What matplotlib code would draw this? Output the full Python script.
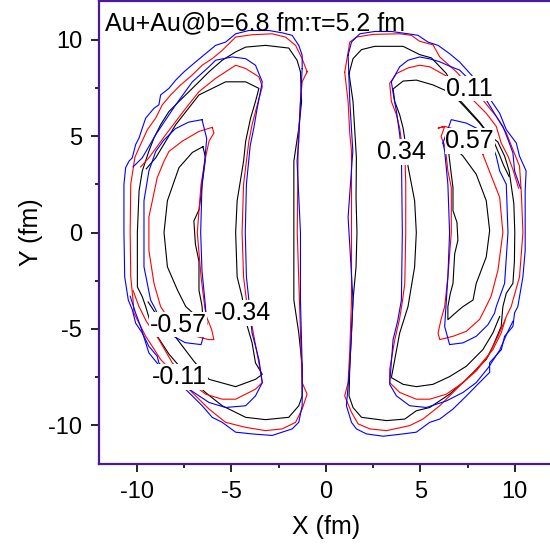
import numpy as np
import matplotlib.pyplot as plt
from matplotlib.ticker import MultipleLocator

plt.rcParams['font.family'] = ['Liberation Sans', 'DejaVu Sans']
plt.rcParams['axes.unicode_minus'] = False

# contour lines, (x, y) in fm
# right lobe, levels 0.11 / 0.34 / 0.57
black_right_011 = [(1.23, 8.24), (1.44, 9.01), (1.89, 9.48), (2.59, 9.65), (4.09, 9.65), (4.97, 9.22),
                   (5.59, 9.05), (6.38, 8.24), (6.75, 7.5), (7.1, 6.85), (8.14, 5.72), (8.7, 5.0),
                   (9.1, 4.7), (9.46, 3.96), (9.7, 3.2), (9.95, 1.5), (10.0, 0.0), (9.98, -1.5),
                   (9.9, -2.64), (9.55, -3.15), (9.37, -3.84), (9.28, -4.87), (8.84, -5.9), (8.49, -6.58),
                   (7.44, -7.61), (6.55, -8.38), (5.5, -9.07), (4.79, -9.24), (4.18, -9.67), (3.21, -9.75),
                   (1.89, -9.58), (1.44, -9.07), (1.23, -8.47), (1.27, -6.93), (1.36, -5.21), (1.44, -3.5),
                   (1.6, -1.8), (1.65, 0.0), (1.6, 1.8), (1.62, 3.87), (1.44, 6.79), (1.23, 8.24)]
red_right_011 = [(1.0, 8.3), (1.27, 9.87), (1.62, 10.13), (2.5, 10.27), (3.91, 10.3), (4.53, 10.22),
                 (4.97, 9.91), (5.67, 9.73), (6.03, 9.1), (6.91, 8.33), (7.6, 7.6), (8.31, 6.87),
                 (9.02, 6.02), (9.55, 5.16), (9.9, 4.3), (10.25, 3.44), (10.35, 2.0), (10.43, 0.0),
                 (10.25, -2.3), (9.81, -3.84), (9.55, -4.35), (9.28, -5.21), (8.84, -6.07), (7.96, -7.1),
                 (7.08, -7.95), (6.03, -8.98), (5.14, -9.67), (4.44, -10.01), (3.21, -10.27), (2.33, -10.18),
                 (1.71, -9.92), (1.36, -9.32), (1.0, -8.47), (1.18, -7.78), (1.27, -6.07), (1.36, -3.5),
                 (1.36, 0.0), (1.36, 4.22), (1.27, 5.1), (1.18, 6.79), (1.0, 8.3)]
blue_right_011 = [(1.18, 9.19), (1.36, 9.87), (1.8, 10.3), (2.59, 10.42), (3.47, 10.42), (4.35, 10.3),
                  (4.88, 10.22), (5.41, 9.87), (5.94, 9.7), (6.55, 9.27), (7.08, 8.84), (7.79, 8.07),
                  (8.49, 7.21), (9.2, 6.18), (9.55, 5.33), (10.08, 4.64), (10.25, 3.96), (10.6, 3.19),
                  (10.55, 2.16), (10.55, -0.93), (10.43, -2.3), (10.16, -3.84), (9.99, -4.16), (9.9, -4.87),
                  (9.46, -5.38), (9.29, -6.07), (8.67, -6.75), (8.67, -7.25), (7.96, -7.95), (7.44, -8.47),
                  (6.73, -9.15), (6.03, -9.67), (5.5, -9.84), (4.79, -10.35), (4.09, -10.44), (3.03, -10.56),
                  (2.15, -10.44), (1.62, -10.18), (1.36, -9.84), (1.09, -8.98), (1.27, -6.93), (1.36, -5.19),
                  (1.44, -3.5), (1.18, 0.79), (1.43, 4.22), (1.27, 6.79), (1.18, 9.19)]
black_right_034 = [(9.7, 2.9), (9.4, 3.5), (9.2, 4.0), (8.9, 4.7), (8.14, 5.67), (7.08, 6.79), (6.38, 7.34),
                   (5.67, 7.65), (4.79, 7.9), (4.09, 7.85), (3.56, 7.44), (3.65, 6.79), (3.91, 6.1),
                   (4.09, 5.41), (4.25, 4.4), (4.35, 3.44), (4.7, 1.65), (4.79, 0.0), (4.7, -1.78),
                   (4.35, -3.84), (3.91, -5.21), (3.65, -6.58), (3.47, -7.52), (4.09, -7.87), (4.79, -7.99),
                   (5.67, -7.87), (6.55, -7.47), (7.44, -6.93), (8.31, -6.07), (8.84, -5.21), (9.2, -4.35)]
red_right_034 = [(10.2, 2.3), (9.9, 3.27), (9.64, 3.96), (9.28, 4.64), (9.02, 5.5), (8.49, 6.18), (7.79, 6.87),
                 (7.0, 7.7), (6.29, 8.16), (5.5, 8.59), (4.97, 8.67), (4.35, 8.53), (3.74, 8.24), (3.38, 7.73),
                 (3.47, 6.79), (3.74, 6.1), (3.91, 5.41), (4.0, 4.73), (4.18, 4.22), (4.23, 2.5), (4.23, 0.0),
                 (4.18, -2.64), (4.05, -3.6), (3.9, -4.5), (3.65, -5.55), (3.38, -7.1), (3.38, -7.78),
                 (3.91, -8.29), (4.79, -8.64), (5.5, -8.64), (6.38, -8.38), (7.26, -7.78), (7.96, -7.18),
                 (8.6, -6.4), (9.1, -5.4), (9.5, -4.5)]
blue_right_034 = [(10.3, 2.3), (9.99, 3.19), (9.9, 4.13), (9.64, 4.82), (9.37, 5.5), (9.02, 6.02), (8.49, 6.87),
                  (7.79, 7.73), (7.08, 8.42), (6.6, 8.6), (6.03, 8.85), (5.5, 9.0), (4.97, 9.1), (4.35, 8.93),
                  (3.91, 8.59), (3.47, 7.81), (3.6, 7.0), (3.74, 6.27), (3.91, 5.07), (4.0, 4.22), (4.05, 0.0),
                  (4.0, -3.5), (3.8, -4.6), (3.56, -5.55), (3.38, -7.87), (3.74, -8.47), (4.44, -8.98),
                  (5.32, -9.07), (6.38, -8.73), (7.26, -8.29), (7.96, -7.78), (8.6, -7.0), (9.2, -6.1),
                  (9.6, -5.2), (9.9, -4.6)]
black_right_057 = [(6.46, 4.5), (6.64, 3.02), (6.73, 2.33), (6.73, 1.13), (6.94, 0.53), (6.99, -0.41),
                   (6.82, -1.1), (6.73, -2.64), (6.59, -3.15), (6.46, -3.84), (6.46, -4.52), (7.0, -4.05),
                   (7.26, -3.84), (7.79, -3.5), (7.96, -2.64), (8.49, -1.27), (8.67, 0.1), (8.49, 1.65),
                   (7.96, 3.02), (7.26, 3.96), (6.9, 4.3), (6.46, 4.5)]
red_right_057 = [(8.31, 4.05), (9.2, 1.82), (9.37, 0.0), (9.11, -1.95), (8.75, -3.3), (8.4, -4.0), (8.14, -4.5),
                 (7.44, -5.12), (6.73, -5.38), (6.03, -5.55), (5.94, -5.21), (6.1, -4.5), (6.29, -3.84),
                 (6.46, -2.3), (6.64, 0.0), (6.64, 2.33), (6.46, 3.19), (6.38, 3.9), (6.29, 4.5), (6.1, 4.97),
                 (6.29, 5.5), (5.94, 5.41), (6.3, 5.5), (7.0, 5.3), (7.8, 4.7), (8.31, 4.05)]
blue_right_057 = [(6.2, 4.64), (6.64, 5.85), (7.44, 5.67), (8.31, 5.24), (8.76, 4.64), (9.02, 3.96), (9.2, 3.19),
                  (9.55, 2.5), (9.64, 0.0), (9.46, -2.64), (9.02, -3.84), (8.93, -4.18), (8.58, -4.78),
                  (7.96, -5.38), (7.26, -5.72), (6.55, -5.81), (6.29, -4.87), (6.38, -3.5), (6.46, -2.3),
                  (6.55, 0.0), (6.46, 2.5), (6.29, 4.22), (6.2, 4.64)]

# left lobe, levels -0.11 / -0.34 / -0.57
black_left_011 = [(-1.34, 8.33), (-1.52, 8.93), (-1.96, 9.56), (-3.19, 9.7), (-4.24, 9.61), (-4.77, 9.36),
                  (-5.48, 8.93), (-6.18, 8.33), (-6.71, 7.81), (-7.24, 7.3), (-7.77, 6.79), (-8.3, 6.27),
                  (-8.74, 5.59), (-9.09, 4.9), (-9.36, 4.22), (-9.71, 3.19), (-9.88, 2.16), (-9.97, 0.0),
                  (-9.97, -2.82), (-9.71, -3.33), (-9.53, -3.84), (-9.3, -4.6), (-8.9, -5.4), (-8.3, -6.3),
                  (-7.6, -7.1), (-6.9, -7.8), (-6.36, -8.3), (-5.48, -8.98), (-4.24, -9.58), (-3.19, -9.7),
                  (-1.96, -9.58), (-1.43, -8.98), (-1.25, -8.47), (-1.25, -6.93), (-1.43, -5.21),
                  (-1.69, -3.5), (-1.69, 0.0), (-1.69, 3.7), (-1.43, 5.4), (-1.28, 6.79), (-1.34, 8.33)]
red_left_011 = [(-0.99, 8.33), (-1.25, 9.01), (-1.6, 9.7), (-2.13, 10.13), (-2.84, 10.3), (-3.9, 10.25),
                (-4.77, 10.13), (-5.48, 9.44), (-6.01, 9.01), (-6.54, 8.67), (-7.07, 8.16), (-7.68, 7.65),
                (-8.21, 7.13), (-8.65, 6.62), (-9.0, 5.93), (-9.44, 5.33), (-9.88, 4.39), (-10.1, 3.9),
                (-10.32, 2.5), (-10.35, 0.0), (-10.32, -2.3), (-10.2, -3.5), (-10.15, -4.18), (-9.88, -4.7),
                (-9.53, -5.38), (-9.18, -5.9), (-8.74, -6.58), (-7.9, -7.45), (-7.06, -8.3), (-6.18, -9.15),
                (-5.3, -9.84), (-4.24, -10.1), (-3.19, -10.27), (-2.31, -10.18), (-1.6, -9.84), (-1.25, -9.15),
                (-0.99, -8.38), (-1.25, -7.78), (-1.34, -5.21), (-1.51, 0.0), (-1.46, 4.73), (-1.34, 6.79),
                (-1.25, 7.81), (-0.99, 8.33)]
blue_left_011 = [(-1.25, 8.5), (-1.25, 9.19), (-1.43, 9.7), (-1.78, 10.22), (-2.31, 10.35), (-3.01, 10.47),
                 (-4.07, 10.47), (-4.77, 10.3), (-5.3, 9.87), (-5.83, 9.7), (-6.36, 9.27), (-6.89, 8.84),
                 (-7.5, 8.33), (-7.94, 7.9), (-8.3, 7.47), (-8.74, 7.13), (-8.83, 6.62), (-9.09, 6.44),
                 (-9.53, 5.93), (-9.71, 5.41), (-9.88, 4.9), (-10.06, 4.56), (-10.24, 3.87), (-10.41, 3.7),
                 (-10.59, 3.36), (-10.68, 2.5), (-10.68, 0.0), (-10.64, -2.3), (-10.45, -3.5), (-10.24, -4.0),
                 (-10.06, -4.7), (-9.71, -5.21), (-9.36, -5.9), (-8.92, -6.41), (-8.83, -6.76), (-8.12, -7.44),
                 (-7.24, -8.3), (-6.54, -8.98), (-6.01, -9.58), (-5.48, -9.84), (-4.77, -10.35), (-3.9, -10.44),
                 (-2.84, -10.52), (-1.78, -10.18), (-1.43, -9.84), (-1.25, -8.98), (-1.25, -6.93),
                 (-1.34, -3.5), (-1.34, 0.0), (-1.52, 3.7), (-1.43, 4.73), (-1.34, 6.79), (-1.25, 8.5)]
black_left_034 = [(-9.5, 3.3), (-9.0, 3.87), (-7.94, 5.59), (-6.71, 7.13), (-5.3, 7.81), (-4.24, 7.81),
                  (-3.54, 7.47), (-3.72, 6.79), (-3.98, 5.93), (-4.24, 4.73), (-4.35, 3.7), (-4.69, 1.65),
                  (-4.77, 0.0), (-4.69, -2.3), (-4.43, -3.33), (-4.3, -4.1), (-4.15, -4.87), (-3.9, -5.72),
                  (-3.72, -6.76), (-3.36, -7.35), (-3.72, -7.61), (-4.77, -7.99), (-6.18, -7.61),
                  (-6.98, -6.67), (-7.85, -5.55), (-8.5, -4.7), (-9.0, -4.2), (-9.4, -3.6)]
red_left_034 = [(-9.8, 3.4), (-9.36, 3.87), (-8.47, 5.07), (-7.41, 6.44), (-6.71, 7.3), (-5.83, 7.99),
                (-4.77, 8.67), (-4.24, 8.5), (-3.54, 8.07), (-3.36, 7.56), (-3.72, 6.27), (-3.9, 5.59),
                (-4.07, 4.73), (-4.2, 3.7), (-4.35, 2.5), (-4.43, 0.0), (-4.35, -2.3), (-4.2, -3.5),
                (-3.9, -4.87), (-3.54, -6.76), (-3.36, -7.78), (-3.72, -8.12), (-4.77, -8.64), (-5.48, -8.64),
                (-6.36, -8.38), (-7.0, -7.9), (-8.12, -6.76), (-8.83, -5.55), (-9.5, -4.6), (-9.9, -3.8),
                (-10.2, -3.0)]
blue_left_034 = [(-10.2, 3.4), (-9.71, 3.87), (-9.0, 5.07), (-7.94, 6.62), (-7.06, 7.81), (-6.18, 8.59),
                 (-5.83, 8.93), (-4.95, 9.1), (-4.24, 9.01), (-3.72, 8.67), (-3.36, 7.81), (-3.63, 6.44),
                 (-3.81, 5.41), (-4.0, 4.5), (-4.2, 2.5), (-4.26, 0.0), (-4.2, -2.3), (-4.07, -3.5),
                 (-3.9, -5.21), (-3.54, -6.58), (-3.36, -7.78), (-3.72, -8.47), (-4.24, -8.98), (-5.3, -9.07),
                 (-6.18, -8.81), (-7.24, -8.12), (-7.94, -7.61), (-8.65, -7.1), (-9.36, -6.24), (-9.8, -4.87),
                 (-10.06, -4.18), (-10.35, -3.3)]
black_left_057 = [(-6.5, 4.45), (-7.06, 4.15), (-7.77, 3.36), (-8.38, 1.65), (-8.56, 0.0), (-8.38, -1.78),
                  (-7.85, -2.98), (-7.41, -3.84), (-7.0, -4.2), (-6.5, -4.5), (-6.55, -3.8), (-6.71, -3.0),
                  (-6.71, -1.5), (-6.9, -0.6), (-6.98, 0.6), (-6.7, 1.2), (-6.54, 2.5), (-6.36, 3.87),
                  (-6.5, 4.45)]
red_left_057 = [(-6.01, 5.45), (-6.71, 5.24), (-7.6, 4.73), (-8.3, 4.2), (-8.56, 3.7), (-8.92, 2.84),
                (-9.36, 0.8), (-9.36, -0.93), (-9.09, -2.64), (-8.74, -3.84), (-8.3, -4.5), (-7.6, -5.0),
                (-6.8, -5.4), (-6.2, -5.55), (-5.92, -5.55), (-6.05, -5.0), (-6.3, -4.4), (-6.4, -3.9),
                (-6.6, -2.3), (-6.8, 0.0), (-6.6, 2.5), (-6.36, 3.9), (-6.18, 4.73), (-5.92, 5.16),
                (-6.01, 5.45)]
blue_left_057 = [(-6.55, 5.85), (-7.26, 5.72), (-7.96, 5.38), (-8.58, 4.78), (-9.0, 4.2), (-9.36, 3.19),
                 (-9.62, 1.65), (-9.62, -1.78), (-9.27, -3.5), (-9.0, -4.0), (-8.76, -4.64), (-8.31, -5.24),
                 (-7.44, -5.71), (-6.6, -5.81), (-6.29, -4.73), (-6.4, -3.5), (-6.55, -2.0), (-6.62, 0.0),
                 (-6.55, 2.5), (-6.4, 3.8), (-6.3, 4.87), (-6.55, 5.85)]

level_labels = ['0.11', '0.57', '0.34', '-0.57', '-0.34', '-0.11']
label_x = [7.61, 7.61, 4.02, -7.82, -4.39, -7.72]
label_y = [7.46, 4.73, 4.16, -4.78, -4.16, -7.5]

title = 'Au+Au@b=6.8 fm:\u03c4=5.2 fm'

curves = {
    'black': [black_right_011, black_right_034, black_right_057,
              black_left_011, black_left_034, black_left_057],
    'red': [red_right_011, red_right_034, red_right_057,
            red_left_011, red_left_034, red_left_057],
    'blue': [blue_right_011, blue_right_034, blue_right_057,
             blue_left_011, blue_left_034, blue_left_057],
}

fig = plt.figure(figsize=(5.5, 5.52), dpi=100)
ax = fig.add_axes([0.18, 0.1594, 0.8247, 0.8388])

for color, lines in curves.items():
    for pts in lines:
        xy = np.array(pts)
        ax.plot(xy[:, 0], xy[:, 1], color=color, lw=0.8)

for txt, x, y in zip(level_labels, label_x, label_y):
    ax.text(x, y, txt, fontsize=18, ha='center', va='center', zorder=5,
            bbox=dict(facecolor='white', edgecolor='none', pad=0.5))

ax.text(-11.7, 10.85, title, fontsize=18, ha='left', va='center', zorder=5)

ax.set_xlim(-12, 12)
ax.set_ylim(-12, 12)
ax.xaxis.set_major_locator(MultipleLocator(5))
ax.yaxis.set_major_locator(MultipleLocator(5))
ax.xaxis.set_minor_locator(MultipleLocator(2.5))
ax.yaxis.set_minor_locator(MultipleLocator(2.5))
ax.tick_params(which='both', direction='out', top=False, right=False, width=1.2, labelsize=17)
ax.tick_params(which='major', length=6, pad=6)
ax.tick_params(which='minor', length=3)

for side in ['left', 'bottom', 'top', 'right']:
    ax.spines[side].set_color('#4b1a9c')
    ax.spines[side].set_linewidth(1.6)

ax.set_xlabel('X (fm)', fontsize=18, labelpad=9)
ax.set_ylabel('Y (fm)', fontsize=18, labelpad=4)

fig.savefig('out.png', dpi=100)
